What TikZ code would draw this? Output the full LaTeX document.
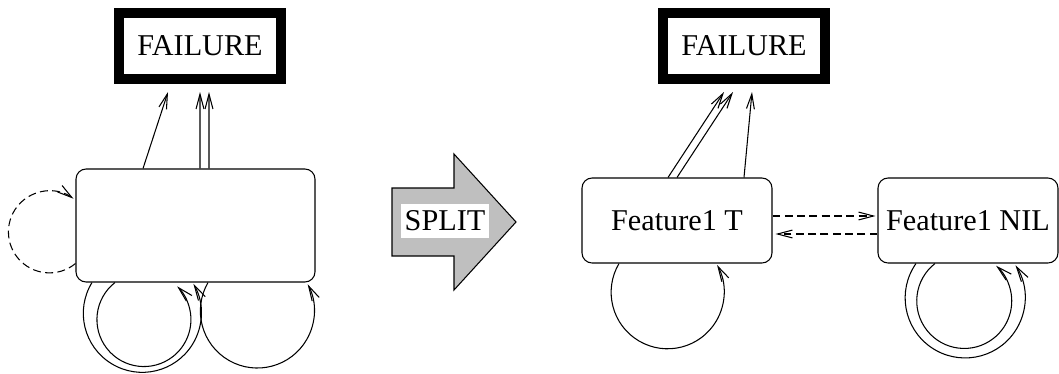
\documentclass[tikz,border=0pt]{standalone}
\usepackage{fontspec}
\setmainfont{Liberation Serif}
\usetikzlibrary{arrows.meta,calc}
\tikzset{
	failbox/.style={draw, line width=5.7pt, minimum width=3.24cm, minimum height=1.32cm, inner sep=0pt},
	statebox/.style={draw, line width=0.6pt, rounded corners=5.7pt, inner sep=0pt},
	link/.style={line width=0.6pt, -{Straight Barb[length=8.5pt,width=4.5pt]}},
	guess/.style={link, dash pattern=on 4.5pt off 2.5pt},
}
\begin{document}
\begin{tikzpicture}[x=0.02cm, y=-0.02cm, font=\fontsize{17.2}{20}\selectfont]
	\useasboundingbox (0,0) rectangle (1059,373);

	\node[failbox] (failL) at (200,46) {FAILURE};
	\node[statebox, minimum width=4.78cm, minimum height=2.26cm] (stateL) at (195.5,225.5) {};

	\draw[link] ($(stateL.north)+(-52.5,0)$) -- ($(failL.south)+(-32,8)$);
	\draw[link] ($(stateL.north)+(4.5,0)$) -- ($(failL.south)+(0,8)$);
	\draw[link] ($(stateL.north)+(13.5,0)$) -- ($(failL.south)+(9,8)$);

	\draw[guess] ($(stateL.south west)+(0,-19)$) arc[start angle=50.5, end angle=306, radius=41];
	\draw[link] ($(stateL.south)+(-103.5,0)$) arc[start angle=211.5, end angle=-30, radius=59];
	\draw[link] ($(stateL.south)+(-80.5,0)$) arc[start angle=232, end angle=-45, radius=47];
	\draw[link] ($(stateL.south)+(12.5,0)$) arc[start angle=210, end angle=-28, radius=57];

	\draw[line width=0.6pt, fill=black!25] (392,188) -- (454,188) -- (454,154) -- (516,222)
		-- (454,290) -- (454,256) -- (392,256) -- cycle;
	\node[fill=white, minimum width=1.76cm, minimum height=0.68cm, inner sep=0pt] (split) at (445,221) {SPLIT};

	\node[failbox] (failR) at (744,46) {FAILURE};
	\node[statebox, minimum width=3.8cm, minimum height=1.7cm] (featT) at (677,220.5) {Feature1 T};
	\node[statebox, minimum width=3.6cm, minimum height=1.7cm] (featN) at (968,220.5) {Feature1 NIL};

	\draw[link] ($(featT.north)+(-9,0)$) -- ($(failR.south)+(-20,8)$);
	\draw[link] ($(featT.north)+(0,0)$) -- ($(failR.south)+(-11,8)$);
	\draw[link] ($(featT.north)+(67,0)$) -- ($(failR.south)+(8,8)$);

	\draw[guess] ($(featT.east)+(0,-4.5)$) -- ($(featN.west)+(-2,-4.5)$);
	\draw[guess] ($(featN.west)+(0,13.5)$) -- ($(featT.east)+(3,13.5)$);

	\draw[link] ($(featT.south)+(-58,0)$) arc[start angle=210.6, end angle=-29, radius=56.5];
	\draw[link] ($(featN.south)+(-52,0)$) arc[start angle=215, end angle=-33, radius=60];
	\draw[link] ($(featN.south)+(-33,0)$) arc[start angle=232, end angle=-48, radius=47.5];
\end{tikzpicture}
\end{document}
